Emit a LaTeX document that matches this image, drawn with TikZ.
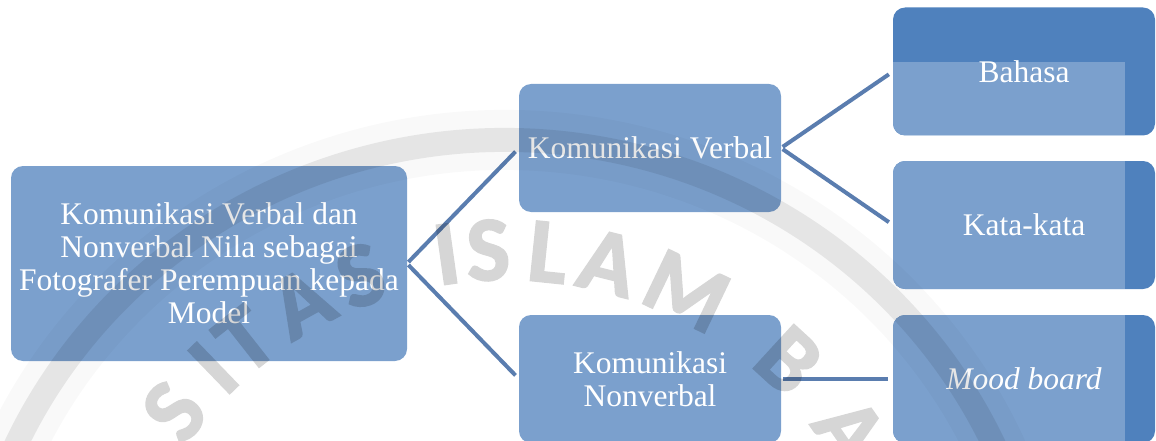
\documentclass[tikz,border=0pt]{standalone}
\usepackage{fontspec}
\setmainfont{Liberation Serif}
\newfontfamily\wmfont[FakeBold=2]{Carlito}
\usetikzlibrary{calc}
\definecolor{boxlight}{HTML}{7BA0CD}
\definecolor{boxdark}{HTML}{4F81BD}
\definecolor{linkblue}{HTML}{5A7DAF}
\tikzset{
  box/.style={rectangle, rounded corners=12pt, fill=boxlight, text=white,
    inner sep=0pt, outer sep=0pt, align=center,
    font=\fontsize{31.5}{33}\selectfont,
    minimum width=262pt, minimum height=128pt},
  sidebox/.style={box, fill=boxdark,
    path picture={\fill[boxlight, sharp corners] (path picture bounding box.south west)
      rectangle ([xshift=-30pt]path picture bounding box.north east);}},
  topbox/.style={box, fill=boxdark,
    path picture={\fill[boxlight, sharp corners] (path picture bounding box.south west)
      rectangle ($(path picture bounding box.north east)+(-30pt,-55pt)$);}},
  link/.style={draw=linkblue, line width=4pt, shorten <=2pt, shorten >=5pt},
  wmletter/.style={font=\wmfont\bfseries\fontsize{92}{92}\selectfont,
    text=black, inner sep=0pt}
}
\begin{document}
\begin{tikzpicture}[x=1pt, y=1pt]
\useasboundingbox (0,0) rectangle (1156,-441);

% main hierarchy
\node[box, minimum width=396pt, minimum height=195pt] (root) at (209,-263.5)
  {Komunikasi Verbal dan\\Nonverbal Nila sebagai\\Fotografer Perempuan kepada\\Model};
\node[box] (verbal) at (650,-148) {Komunikasi Verbal};
\node[box] (nonverbal) at (650,-379) {Komunikasi\\Nonverbal};
\node[topbox] (bahasa) at (1024,-71.5) {Bahasa};
\node[sidebox] (kata) at (1024,-225) {Kata-kata};
\node[sidebox] (mood) at (1024,-379) {\itshape Mood board};

% connectors
\draw[link] (root.east) -- (verbal.west);
\draw[link] (root.east) -- (nonverbal.west);
\draw[link] (verbal.east) -- (bahasa.west);
\draw[link] (verbal.east) -- (kata.west);
\draw[link] (nonverbal.east) -- (mood.west);

% faint seal watermark laid over everything
\begin{scope}
\clip (0,0) rectangle (1156,-441);
\coordinate (seal) at (505,-670);
\draw[black, opacity=0.025, line width=60pt]
  ($(seal)+(170:540 and 530)$) arc[start angle=170, end angle=10, x radius=540, y radius=530];
\draw[black, opacity=0.08, line width=24pt]
  ($(seal)+(170:540 and 530)$) arc[start angle=170, end angle=10, x radius=540, y radius=530];
\begin{scope}[transparency group, opacity=0.16]
\foreach \ang/\ch in {142/S, 134/I, 128.2/T, 119/A, 110.1/S,
                      98/I, 92.3/S, 84.1/L, 75.8/A, 64.4/M, 47.5/B, 34.8/A}
  \node[wmletter, rotate=\ang-90] at ($(seal)+(\ang:420)$) {\ch};
\end{scope}
\end{scope}
\end{tikzpicture}
\end{document}
